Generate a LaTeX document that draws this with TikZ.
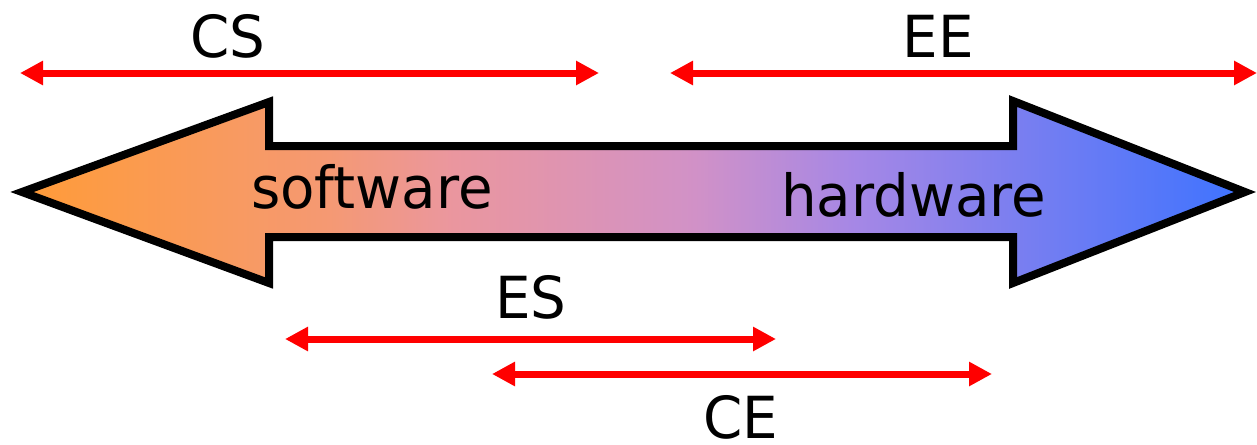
\documentclass[tikz,border=0pt]{standalone}
\usepackage{fontspec}
\setmainfont{DejaVu Sans}[FakeStretch=0.97]
\usetikzlibrary{arrows.meta}
\definecolor{redarr}{RGB}{255,0,0}
\pgfdeclarehorizontalshading{swhw}{100bp}{
  rgb(0bp)=(1,0.61,0.22);
  rgb(25bp)=(1,0.61,0.22);
  rgb(37.5bp)=(0.96,0.60,0.45);
  rgb(42.5bp)=(0.92,0.59,0.62);
  rgb(52.5bp)=(0.82,0.57,0.78);
  rgb(59bp)=(0.65,0.53,0.90);
  rgb(75bp)=(0.24,0.45,1);
  rgb(100bp)=(0.24,0.45,1)}
\tikzset{
  lbl/.style={font=\fontsize{58}{60}\selectfont, inner sep=0pt, anchor=base},
  span/.style={draw=redarr, line width=7pt, {Triangle[length=23pt,width=23pt]}-{Triangle[length=23pt,width=23pt]}},
  bigarrow/.style={draw=black, line width=8pt, line join=miter, shading=swhw, shading angle=0}
}
\begin{document}
\begin{tikzpicture}[x=1pt,y=-1pt]
\useasboundingbox (0,0) rectangle (1257,444);
% big double arrow
\path[bigarrow] (22,192) -- (269,102) -- (269,146) -- (1013,146) -- (1013,101)
  -- (1245,192) -- (1013,283) -- (1013,237) -- (269,237) -- (269,283) -- cycle;
\node[lbl, anchor=base west] (sw) at (251,208) {software};
\node[lbl, anchor=base west] (hw) at (781,216) {hardware};
% coordinates of span ends
\coordinate (csL) at (20,73);  \coordinate (csR) at (599,73);
\coordinate (eeL) at (670,73); \coordinate (eeR) at (1257,73);
\coordinate (esL) at (285,339); \coordinate (esR) at (776,339);
\coordinate (ceL) at (492,374); \coordinate (ceR) at (992,374);
\draw[span] (csL) -- (csR);
\draw[span] (eeL) -- (eeR);
\draw[span] (esL) -- (esR);
\draw[span] (ceL) -- (ceR);
\node[lbl] (cs) at (228,58) {CS};
\node[lbl] (ee) at (938,58) {EE};
\node[lbl] (es) at (531,318) {ES};
\node[lbl] (ce) at (741,438) {CE};
\end{tikzpicture}
\end{document}
